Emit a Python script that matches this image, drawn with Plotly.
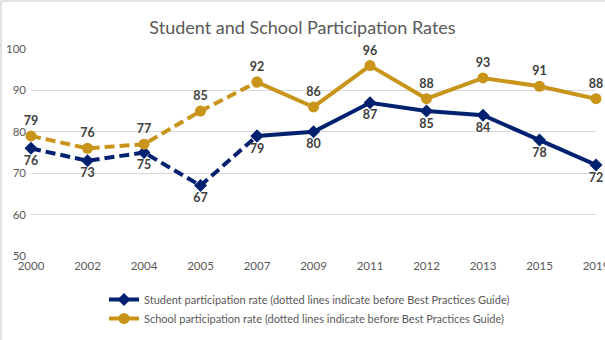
import plotly.graph_objects as go

years = ["2000", "2002", "2004", "2005", "2007", "2009", "2011", "2012", "2013", "2015", "2019"]
student = [76, 73, 75, 67, 79, 80, 87, 85, 84, 78, 72]
school = [79, 76, 77, 85, 92, 86, 96, 88, 93, 91, 88]
split = 4  # index of 2007: dashed before, solid after

student_name = "Student participation rate (dotted lines indicate before Best Practices Guide)"
school_name = "School participation rate (dotted lines indicate before Best Practices Guide)"

NAVY = "#002070"
GOLD = "#C8951A"
LABEL = dict(family="Lato, Open Sans, sans-serif", size=12.5, color="#404040", weight="bold")

xs = list(range(len(years)))

fig = go.Figure()

def add_series(vals, color, symbol, msize, name, tpos):
    # dashed part
    fig.add_trace(go.Scatter(
        x=xs[:split + 1], y=vals[:split + 1], mode="lines+markers+text",
        text=[str(v) for v in vals[:split]] + [""], textposition=tpos,
        textfont=LABEL, cliponaxis=False,
        line=dict(color=color, width=4, dash="10px,5px"),
        marker=dict(symbol=symbol, size=msize, color=color),
        showlegend=False, hoverinfo="skip"))
    # solid part
    fig.add_trace(go.Scatter(
        x=xs[split:], y=vals[split:], mode="lines+markers+text",
        text=[str(v) for v in vals[split:]], textposition=tpos,
        textfont=LABEL, cliponaxis=False,
        line=dict(color=color, width=4),
        marker=dict(symbol=symbol, size=msize, color=color),
        name=name, showlegend=True))

add_series(student, NAVY, "diamond", 10, student_name, "bottom center")
add_series(school, GOLD, "circle", 11, school_name, "top center")

L, R, T, B = 31, 9, 49, 84
W, H = 605, 340
pw, ph = W - L - R, H - T - B

fig.update_layout(
    width=W, height=H,
    margin=dict(l=L, r=R, t=T, b=B, autoexpand=False),
    paper_bgcolor="white", plot_bgcolor="white",
    font=dict(family="Lato, Open Sans, sans-serif", color="#595959", size=11),
    title=dict(text="Student and School Participation Rates", x=0.5, xanchor="center",
               y=1 - 28 / H, yanchor="middle",
               font=dict(size=18, color="#595959", family="Lato, Open Sans, sans-serif")),
    xaxis=dict(range=[0, len(years) - 1], tickvals=xs, ticktext=years, showgrid=False,
               zeroline=False, showline=False, ticks="", ticklabeloverflow="allow",
               ticklabelstandoff=1, automargin=False,
               tickfont=dict(size=11.5, color="#595959")),
    yaxis=dict(range=[50, 100], dtick=10, gridcolor="#d9d9d9", gridwidth=1, zeroline=False,
               showline=False, ticks="", ticklabelstandoff=4, automargin=False,
               tickfont=dict(size=11.5, color="#595959")),
    legend=dict(orientation="v", x=(104 - L) / pw, xanchor="left", y=(256 - 285) / ph, yanchor="top",
                font=dict(size=11, color="#595959"), bgcolor="rgba(0,0,0,0)", tracegroupgap=0),
    shapes=[
        dict(type="line", xref="paper", yref="paper", x0=(1 - L) / pw, x1=(1 - L) / pw,
             y0=(256 - 1) / ph, y1=(256 - 345) / ph, line=dict(color="#d9d9d9", width=1.5)),
        dict(type="line", xref="paper", yref="paper", x0=(1 - L) / pw, x1=(610 - L) / pw,
             y0=(256 - 1) / ph, y1=(256 - 1) / ph, line=dict(color="#d9d9d9", width=1.5)),
    ],
)

fig.write_html("out.html")
